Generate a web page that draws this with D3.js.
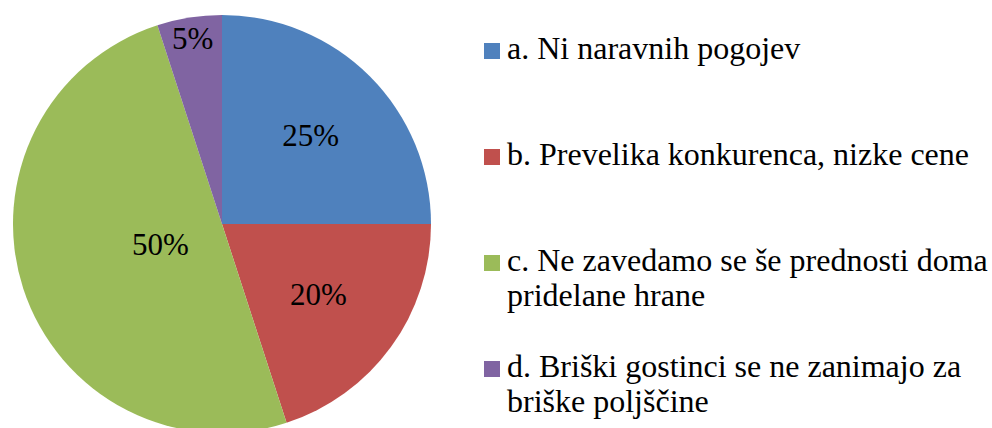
<!DOCTYPE html>
<html>
<head>
<meta charset="utf-8">
<script src="https://cdn.jsdelivr.net/npm/d3@7"></script>
</head>
<body style="margin:0">
<svg class="chart" width="992" height="428"></svg>
<script>
// Chart data
const categories = [
  'a. Ni naravnih pogojev',
  'b. Prevelika konkurenca, nizke cene',
  'c. Ne zavedamo se še prednosti doma pridelane hrane',
  'd. Briški gostinci se ne zanimajo za briške poljščine',
];
const values = [25, 20, 50, 5];
const percentLabels = ['25%', '20%', '50%', '5%'];
// legend text split onto lines as in the original
const legendLines = [
  ['a. Ni naravnih pogojev'],
  ['b. Prevelika konkurenca, nizke cene'],
  ['c. Ne zavedamo se še prednosti doma', 'pridelane hrane'],
  ['d. Briški gostinci se ne zanimajo za', 'briške poljščine'],
];

const colors = ['#4f81bd', '#c0504d', '#9bbb59', '#8064a2'];
const serif = "'Liberation Serif'";

const cx = 222;
const cy = 224;
const radius = 209;

// where each percentage label sits, as a fraction of the radius
const labelRadius = [0.6, 0.57, 0.31, 0.9];

const svg = d3.select('.chart');

const pie = d3.pie().sort(null).value((d) => d);
const arcs = pie(values);

const arc = d3.arc().innerRadius(0).outerRadius(radius);

svg.selectAll('path.slice')
  .data(arcs)
  .join('path')
  .attr('class', 'slice')
  .attr('transform', `translate(${cx},${cy})`)
  .attr('d', arc)
  .attr('fill', (d, i) => colors[i]);

// Percentage labels, placed with plain x/y
const labelPos = arcs.map((d, i) => {
  const r = radius * labelRadius[i];
  return d3.arc().innerRadius(r).outerRadius(r).centroid(d);
});

svg.selectAll('text.pct')
  .data(arcs)
  .join('text')
  .attr('class', 'pct')
  .attr('x', (d, i) => cx + labelPos[i][0])
  .attr('y', (d, i) => cy + labelPos[i][1] + 11)
  .attr('text-anchor', 'middle')
  .attr('font-size', 31)
  .style('font-family', serif)
  .attr('fill', '#000')
  .text((d, i) => percentLabels[i]);

// Legend
const legendY = d3.scalePoint()
  .domain(categories)
  .range([59, 377]);

const lineHeight = 35;

svg.selectAll('rect.key')
  .data(categories)
  .join('rect')
  .attr('class', 'key')
  .attr('x', 484)
  .attr('y', (d) => legendY(d) - 16)
  .attr('width', 16)
  .attr('height', 16)
  .attr('fill', (d, i) => colors[i]);

categories.forEach((cat, i) => {
  legendLines[i].forEach((line, j) => {
    svg.append('text')
      .attr('x', 507)
      .attr('y', legendY(cat) + j * lineHeight)
      .attr('font-size', 32)
      .style('font-family', serif)
      .attr('fill', '#000')
      .text(line);
  });
});
</script>
</body>
</html>
